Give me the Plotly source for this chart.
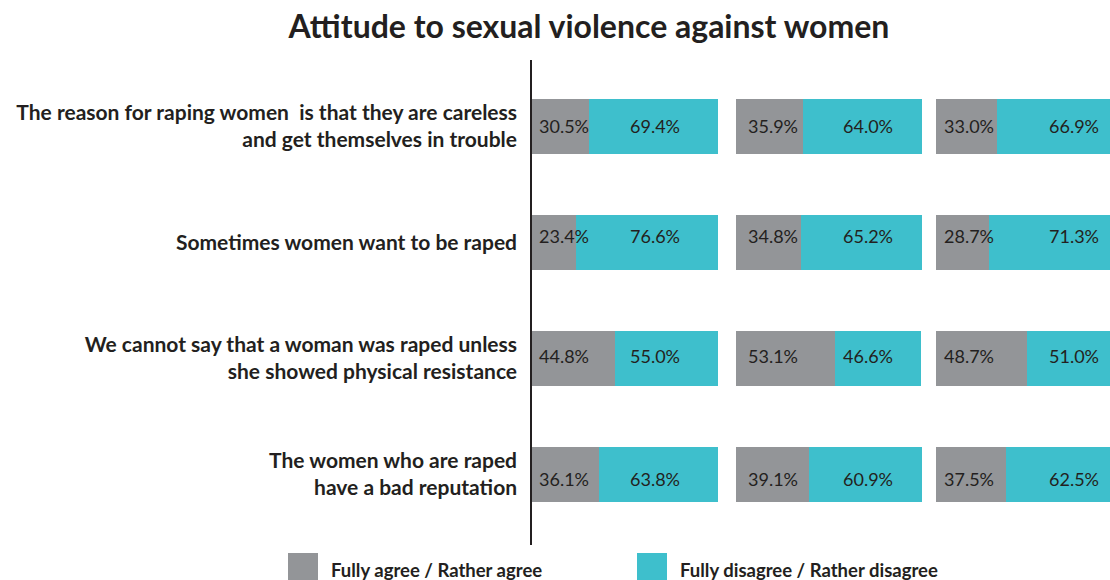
import plotly.graph_objects as go

# Survey statements (top to bottom)
statements = [
    "The reason for raping women  is that they are careless<br>and get themselves in trouble",
    "Sometimes women want to be raped",
    "We cannot say that a woman was raped unless<br>she showed physical resistance",
    "The women who are raped<br>have a bad reputation",
]

# Share of respondents (%) in each of the three groups
agree_1 = [30.5, 23.4, 44.8, 36.1]
disagree_1 = [69.4, 76.6, 55.0, 63.8]
agree_2 = [35.9, 34.8, 53.1, 39.1]
disagree_2 = [64.0, 65.2, 46.6, 60.9]
agree_3 = [33.0, 28.7, 48.7, 37.5]
disagree_3 = [66.9, 71.3, 51.0, 62.5]

series_names = ["Fully agree / Rather agree", "Fully disagree / Rather disagree"]

GREY = "#939598"
TEAL = "#3EBFCC"
INK = "#231F20"

W, H = 1110, 580
rows = list(range(len(statements)))

panels = [
    (agree_1, disagree_1),
    (agree_2, disagree_2),
    (agree_3, disagree_3),
]

# horizontal pixel extents of the three panels
panel_px = [(532, 718), (736, 922), (936, 1122)]
# label anchor positions (in % units of each panel)
label_pos = [(17.2, 66.1), (19.9, 71.0), (17.7, 74.2)]
# small vertical nudges of the value labels per row (px)
row_shift = [0, -6, -2, 5]

fig = go.Figure()
annotations = []

for i, (agree, disagree) in enumerate(panels):
    suffix = "" if i == 0 else str(i + 1)
    xa, ya = "x" + suffix, "y" + suffix
    fig.add_trace(go.Bar(
        y=rows, x=agree, orientation="h", name=series_names[0],
        marker=dict(color=GREY, line=dict(width=0)), width=0.474,
        xaxis=xa, yaxis=ya, showlegend=False, hoverinfo="x",
    ))
    fig.add_trace(go.Bar(
        y=rows, x=disagree, orientation="h", name=series_names[1],
        marker=dict(color=TEAL, line=dict(width=0)), width=0.474,
        xaxis=xa, yaxis=ya, showlegend=False, hoverinfo="x",
    ))
    for r in rows:
        for val, xpos in ((agree[r], label_pos[i][0]), (disagree[r], label_pos[i][1])):
            annotations.append(dict(
                x=xpos, y=r, xref=xa, yref=ya, text=f"{val:.1f}%",
                showarrow=False, xanchor="center", yanchor="middle",
                yshift=-row_shift[r],
                font=dict(family="Lato", size=18, color=INK),
            ))

# shared vertical extent (px 60 -> 545)
y_dom = [(H - 545) / H, (H - 60) / H]
y_range = [3.61, -0.57]

layout = dict(
    width=W, height=H,
    margin=dict(l=0, r=0, t=0, b=0),
    paper_bgcolor="white", plot_bgcolor="white",
    barmode="stack",
    bargap=0,
    title=dict(
        text="<b>Attitude to sexual violence against women</b>",
        x=589 / W, xanchor="center", xref="paper",
        y=1 - 27 / H, yanchor="middle", yref="container",
        font=dict(family="Lato", size=32, color=INK),
    ),
)

for i, (x0, x1) in enumerate(panel_px):
    suffix = "" if i == 0 else str(i + 1)
    right = min(x1, W)
    full = 100.0 * (right - x0) / (x1 - x0)
    layout["xaxis" + suffix] = dict(
        domain=[x0 / W, right / W], range=[0, full],
        showgrid=False, zeroline=False, showticklabels=False,
        showline=False, fixedrange=True,
        anchor="y" + suffix,
    )
    yax = dict(
        domain=y_dom, range=y_range, showgrid=False, zeroline=False,
        anchor="x" + suffix, fixedrange=True,
    )
    if i == 0:
        yax.update(
            tickmode="array", tickvals=rows, ticktext=[f"<b>{s}</b>" for s in statements],
            ticks="", showline=True, linecolor="#231F20", linewidth=1.5,
            ticklabelstandoff=9,
            tickfont=dict(family="Lato", size=21, color=INK),
        )
    else:
        yax.update(showticklabels=False, showline=False)
    layout["yaxis" + suffix] = yax

fig.update_layout(**layout)

# legend drawn as swatches with captions
shapes = []
legend_items = [(288, GREY, series_names[0]), (637, TEAL, series_names[1])]
for x0, col, label in legend_items:
    shapes.append(dict(
        type="rect", xref="paper", yref="paper",
        x0=x0 / W, x1=(x0 + 30) / W, y0=0, y1=(H - 553) / H,
        fillcolor=col, line=dict(width=0),
    ))
    annotations.append(dict(
        x=(x0 + 41) / W, y=(H - 570) / H, xref="paper", yref="paper",
        text=f"<b>{label}</b>", showarrow=False, xanchor="left", yanchor="middle",
        font=dict(family="Lato", size=18.5, color=INK),
    ))

fig.update_layout(shapes=shapes, annotations=annotations)

fig.write_html("out.html")
